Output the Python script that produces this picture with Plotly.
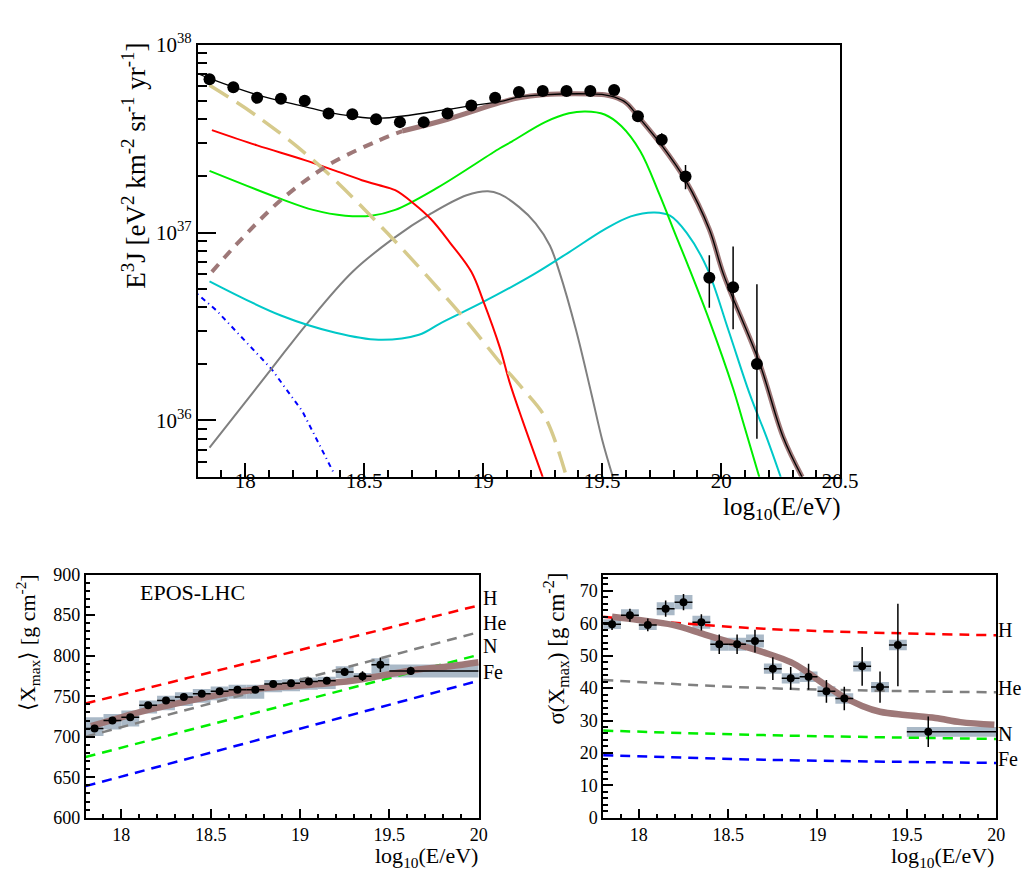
import plotly.graph_objs as go

# ---- top panel: flux ----
flux_e = [17.85, 17.95, 18.05, 18.15, 18.25, 18.35, 18.45, 18.55, 18.65, 18.75, 18.85, 18.95,
          19.05, 19.15, 19.25, 19.35, 19.45, 19.55, 19.65, 19.75, 19.85, 19.95, 20.05, 20.15]
flux = [6.54e37, 5.94e37, 5.21e37, 5.15e37, 5.03e37, 4.30e37, 4.26e37, 4.01e37, 3.87e37, 3.87e37,
        4.30e37, 4.74e37, 5.21e37, 5.60e37, 5.66e37, 5.66e37, 5.66e37, 5.73e37, 4.16e37, 3.12e37,
        1.99e37, 5.75e36, 5.11e36, 2.0e36]
flux_err_up = [0.05e37, 0.05e37, 0.05e37, 0.05e37, 0.05e37, 0.05e37, 0.05e37, 0.05e37, 0.05e37, 0.05e37,
               0.05e37, 0.05e37, 0.05e37, 0.05e37, 0.05e37, 0.05e37, 0.06e37, 0.07e37, 0.1e37, 0.26e37,
               0.30e37, 1.82e36, 3.32e36, 3.3e36]
flux_err_dn = [0.05e37, 0.05e37, 0.05e37, 0.05e37, 0.05e37, 0.05e37, 0.05e37, 0.05e37, 0.05e37, 0.05e37,
               0.05e37, 0.05e37, 0.05e37, 0.05e37, 0.05e37, 0.05e37, 0.06e37, 0.07e37, 0.1e37, 0.24e37,
               0.29e37, 1.77e36, 2.05e36, 1.2e36]

total_e = [17.80, 17.85, 18.05, 18.25, 18.35, 18.45, 18.57, 18.85, 18.95, 19.07, 19.15, 19.25,
           19.45, 19.51, 19.55, 19.60, 19.65, 19.75, 19.85, 19.95, 20.01, 20.16, 20.26, 20.34]
total = [7.02e37, 6.61e37, 5.41e37, 4.68e37, 4.36e37, 4.16e37, 4.06e37, 4.52e37, 4.74e37, 4.97e37,
         5.27e37, 5.41e37, 5.47e37, 5.41e37, 5.27e37, 4.91e37, 4.16e37, 2.91e37, 1.90e37, 1.04e37,
         5.97e36, 2.04e36, 8.17e35, 5.0e35]

extra_low_e = [17.86, 17.97, 18.15, 18.35, 18.55, 18.66]
extra_low = [6.18e36, 8.83e36, 1.49e37, 2.29e37, 3.05e37, 3.47e37]
extra_e = [18.66, 18.85, 19.07, 19.15, 19.25, 19.45, 19.51, 19.55, 19.60, 19.65, 19.75, 19.85,
           19.95, 20.01, 20.16, 20.26, 20.34]
extra = [3.47e37, 4.01e37, 4.91e37, 5.21e37, 5.41e37, 5.47e37, 5.41e37, 5.27e37, 4.91e37, 4.16e37,
         2.91e37, 1.90e37, 1.04e37, 5.97e36, 2.04e36, 8.17e35, 5.0e35]

gal_e = [17.85, 18.05, 18.30, 18.60, 18.91, 19.07, 19.165, 19.26, 19.35]
gal = [6.08e37, 4.16e37, 2.34e37, 9.85e36, 3.62e36, 2.04e36, 1.48e36, 1.04e36, 5.0e35]

red_e = [17.86, 18.05, 18.25, 18.38, 18.49, 18.56, 18.63, 18.71, 18.78, 18.86, 18.95, 19.0,
         19.07, 19.11, 19.165, 19.25]
red = [3.51e37, 2.91e37, 2.43e37, 2.13e37, 1.90e37, 1.79e37, 1.68e37, 1.42e37, 1.18e37, 8.85e36,
       6.18e36, 4.33e36, 2.44e36, 1.61e36, 1.0e36, 5.0e35]

green_e = [17.85, 18.15, 18.285, 18.42, 18.53, 18.63, 18.81, 19.07, 19.12, 19.26, 19.36, 19.43,
           19.51, 19.58, 19.66, 19.74, 19.81, 19.86, 19.95, 20.05, 20.09, 20.16]
green = [2.13e37, 1.51e37, 1.32e37, 1.23e37, 1.23e37, 1.32e37, 1.74e37, 2.81e37, 3.05e37, 3.87e37,
         4.31e37, 4.41e37, 4.25e37, 3.69e37, 2.71e37, 1.60e37, 9.6e36, 6.71e36, 3.41e36, 1.48e36,
         1.0e36, 5.0e35]

gray_e = [17.85, 18.11, 18.26, 18.45, 18.62, 18.78, 18.93, 19.02, 19.07, 19.15, 19.22, 19.28,
          19.32, 19.39, 19.455, 19.50, 19.545]
gray = [7.16e35, 1.88e36, 3.28e36, 6.17e36, 9.25e36, 1.26e37, 1.58e37, 1.66e37, 1.60e37, 1.37e37,
        1.12e37, 8.53e36, 6.18e36, 3.03e36, 1.38e36, 7.88e35, 5.0e35]

cyan_e = [17.85, 18.15, 18.38, 18.56, 18.73, 18.82, 19.0, 19.21, 19.36, 19.51, 19.62, 19.72,
          19.785, 19.855, 19.94, 20.03, 20.12, 20.19, 20.25]
cyan = [5.50e36, 3.62e36, 2.93e36, 2.69e36, 2.86e36, 3.29e36, 4.27e36, 5.97e36, 7.85e36, 1.04e37,
        1.22e37, 1.28e37, 1.23e37, 9.96e36, 6.49e36, 3.03e36, 1.38e36, 8.17e35, 5.0e35]

blue_e = [17.80, 17.88, 18.11, 18.24, 18.37]
blue = [4.70e36, 3.84e36, 1.88e36, 1.12e36, 5.31e35]

# ---- bottom panels: Xmax moments ----
bin_lo = [17.8, 17.9, 18.0, 18.1, 18.2, 18.3, 18.4, 18.5, 18.6, 18.7, 18.8, 18.9,
          19.0, 19.1, 19.2, 19.3, 19.4, 19.5]
bin_hi = [17.9, 18.0, 18.1, 18.2, 18.3, 18.4, 18.5, 18.6, 18.7, 18.8, 18.9, 19.0,
          19.1, 19.2, 19.3, 19.4, 19.5, 20.0]
lg_e = [17.85, 17.95, 18.05, 18.15, 18.25, 18.35, 18.45, 18.55, 18.65, 18.75, 18.85, 18.95,
        19.05, 19.15, 19.25, 19.35, 19.45, 19.62]

xmax = [710, 720, 724, 738.7, 744.7, 749, 753, 756, 758, 758, 765, 766, 768, 769, 780, 774.7, 788.8, 781.2]
xmax_stat = [2, 2, 2, 2, 2, 2, 2, 2, 2.5, 2.5, 3, 3, 3.5, 4, 5, 6, 9, 5]
xmax_sys_up = [14, 8, 8.5, 6, 6, 6, 6, 6, 6, 6, 5, 5, 5, 5, 7, 4, 8, 8]
xmax_sys_dn = [9, 11, 11.5, 10, 12, 11, 11, 11, 11, 11, 10, 10, 10, 10, 8, 6, 12, 8]

xmax_fit_e = [17.83, 18.0, 18.15, 18.25, 18.5, 18.65, 18.8, 18.92, 19.11, 19.29, 19.47, 19.66, 19.84, 20.0]
xmax_fit = [713, 724, 733, 738, 750, 755, 760, 762, 765, 769, 776, 783, 787, 792]

ref_e = [17.8, 20.0]
xmax_H = [741, 862]
xmax_He = [700, 829]
xmax_N = [675, 801]
xmax_Fe = [639, 769]

sig = [59.7, 62.5, 59.5, 64.5, 66.5, 60.3, 53.5, 53.5, 54.5, 46, 43, 43.5, 39, 36.8, 46.7, 40.3, 53.3, 26.5]
sig_stat = [1.8, 2, 2, 2.5, 2.5, 2.5, 3, 3, 3.5, 3.5, 3.5, 4, 3.5, 3.6, 6, 4.8, 12.7, 4.7]
sig_sys = [1.5, 1.8, 1.6, 2, 2.2, 2, 2, 2, 2, 1.6, 1.6, 1.6, 1.6, 1.6, 1.6, 1.6, 1.6, 1.5]

sig_fit_e = [17.85, 18.0, 18.19, 18.37, 18.55, 18.70, 18.85, 18.94, 19.03, 19.14, 19.25, 19.35,
             19.49, 19.66, 19.8, 19.99]
sig_fit = [62, 61, 59.5, 56.5, 53.5, 51, 48, 45, 41.5, 37.5, 34.5, 32.7, 31.7, 30.8, 29.5, 28.7]

sig_ref_e = [17.8, 18.7, 20.0]
sig_H = [62.0, 58.3, 56.3]
sig_He = [42.5, 40.0, 38.7]
sig_N = [26.9, 25.5, 24.3]
sig_Fe = [19.3, 17.9, 16.9]

FONT = "Liberation Serif"
BROWN = "#9e7878"
BOXC = "#aab9c7"
W, H = 1031, 871


def px_x(p):
    return p / W


def px_y(p):
    return 1 - p / H


data = []

# top panel curves
data.append(go.Scatter(x=blue_e, y=blue, mode="lines", xaxis="x", yaxis="y",
                       line=dict(color="#0000ff", width=2, dash="1px,4px,5px,4px")))
data.append(go.Scatter(x=gray_e, y=gray, mode="lines", line_shape="spline", xaxis="x", yaxis="y",
                       line=dict(color="#808080", width=2)))
data.append(go.Scatter(x=cyan_e, y=cyan, mode="lines", line_shape="spline", xaxis="x", yaxis="y",
                       line=dict(color="#00c8c8", width=2)))
data.append(go.Scatter(x=green_e, y=green, mode="lines", line_shape="spline", xaxis="x", yaxis="y",
                       line=dict(color="#00ee00", width=2)))
data.append(go.Scatter(x=red_e, y=red, mode="lines", line_shape="spline", xaxis="x", yaxis="y",
                       line=dict(color="#ff0000", width=2)))
data.append(go.Scatter(x=gal_e, y=gal, mode="lines", line_shape="spline", xaxis="x", yaxis="y",
                       line=dict(color="#d6ca8c", width=3.5, dash="22px,10px")))
data.append(go.Scatter(x=extra_low_e, y=extra_low, mode="lines", line_shape="spline", xaxis="x", yaxis="y",
                       line=dict(color=BROWN, width=4, dash="10px,8px")))
data.append(go.Scatter(x=extra_e, y=extra, mode="lines", line_shape="spline", xaxis="x", yaxis="y",
                       line=dict(color=BROWN, width=5)))
data.append(go.Scatter(x=total_e, y=total, mode="lines", line_shape="spline", xaxis="x", yaxis="y",
                       line=dict(color="black", width=1.3)))
data.append(go.Scatter(x=flux_e, y=flux, mode="markers", xaxis="x", yaxis="y",
                       marker=dict(color="black", size=12),
                       error_y=dict(type="data", array=flux_err_up, arrayminus=flux_err_dn,
                                    color="black", thickness=1.5, width=0)))

# bottom panels: systematic boxes
xmax_base = [v - d for v, d in zip(xmax, xmax_sys_dn)]
xmax_h = [u + d for u, d in zip(xmax_sys_up, xmax_sys_dn)]
sig_base = [v - s for v, s in zip(sig, sig_sys)]
sig_h = [2 * s for s in sig_sys]
bin_c = [(a + b) / 2 for a, b in zip(bin_lo, bin_hi)]
bin_w = [b - a for a, b in zip(bin_lo, bin_hi)]
err_p = [b - e for b, e in zip(bin_hi, lg_e)]
err_m = [e - a for a, e in zip(bin_lo, lg_e)]

data.append(go.Bar(x=bin_c, y=xmax_h, base=xmax_base, width=bin_w, xaxis="x2", yaxis="y2",
                   marker=dict(color=BOXC, line=dict(width=0))))
data.append(go.Bar(x=bin_c, y=sig_h, base=sig_base, width=bin_w, xaxis="x3", yaxis="y3",
                   marker=dict(color=BOXC, line=dict(width=0))))

ref_colors = ["#ff0000", "#808080", "#00ee00", "#0000ff"]
for vals, c in zip([xmax_H, xmax_He, xmax_N, xmax_Fe], ref_colors):
    data.append(go.Scatter(x=ref_e, y=vals, mode="lines", xaxis="x2", yaxis="y2",
                           line=dict(color=c, width=2.5, dash="10px,7px")))
for vals, c in zip([sig_H, sig_He, sig_N, sig_Fe], ref_colors):
    data.append(go.Scatter(x=sig_ref_e, y=vals, mode="lines", line_shape="spline", xaxis="x3", yaxis="y3",
                           line=dict(color=c, width=2.5, dash="10px,7px")))

data.append(go.Scatter(x=xmax_fit_e, y=xmax_fit, mode="lines", line_shape="spline", xaxis="x2", yaxis="y2",
                       line=dict(color=BROWN, width=6.5)))
data.append(go.Scatter(x=sig_fit_e, y=sig_fit, mode="lines", line_shape="spline", xaxis="x3", yaxis="y3",
                       line=dict(color=BROWN, width=6.5)))

data.append(go.Scatter(x=lg_e, y=xmax, mode="markers", xaxis="x2", yaxis="y2",
                       marker=dict(color="black", size=8),
                       error_x=dict(type="data", array=err_p, arrayminus=err_m, color="black", thickness=1.5, width=0),
                       error_y=dict(type="data", array=xmax_stat, color="black", thickness=1.5, width=0)))
data.append(go.Scatter(x=lg_e, y=sig, mode="markers", xaxis="x3", yaxis="y3",
                       marker=dict(color="black", size=8),
                       error_x=dict(type="data", array=err_p, arrayminus=err_m, color="black", thickness=1.5, width=0),
                       error_y=dict(type="data", array=sig_stat, color="black", thickness=1.5, width=0)))

tickfont = dict(family=FONT, size=21, color="black")
smallfont = dict(family=FONT, size=18, color="black")


def axis(domain, anchor, rng, dtick, minor_dtick, ticklen, minor_len, font, **kw):
    d = dict(domain=domain, anchor=anchor, range=rng, dtick=dtick, ticks="inside", ticklen=ticklen,
             tickwidth=1.5, tickcolor="black", showline=True, linecolor="black", linewidth=1.5,
             mirror=True, showgrid=False, zeroline=False, tickfont=font,
             minor=dict(ticks="inside", ticklen=minor_len, tickwidth=1.5, tickcolor="black",
                        dtick=minor_dtick, showgrid=False))
    d.update(kw)
    return d


minor_log = [m * 10.0 ** e for e in (35, 36, 37) for m in range(2, 10)]

layout = go.Layout(
    width=W, height=871, margin=dict(l=0, r=0, t=0, b=0),
    plot_bgcolor="white", paper_bgcolor="white", showlegend=False, barmode="overlay",
    font=dict(family=FONT, color="black"),
    xaxis=axis([px_x(193), px_x(847)], "y", [17.8, 20.5], 0.5, 0.1, 14, 7, tickfont, tick0=18,
               ticklabelstandoff=-16),
    yaxis=dict(domain=[px_y(467.7), px_y(23.3)], anchor="x", type="log", range=[35.7, 38],
               tickmode="array", tickvals=[1e36, 1e37, 1e38],
               ticktext=["10<sup>36</sup>", "10<sup>37</sup>", "10<sup>38</sup>"],
               ticks="inside", ticklen=19, tickwidth=1.5, tickcolor="black",
               showline=True, linecolor="black", linewidth=1.5, mirror=True,
               showgrid=False, zeroline=False, tickfont=tickfont,
               minor=dict(ticks="inside", ticklen=10, tickwidth=1.5, tickcolor="black",
                          tickmode="array", tickvals=minor_log, showgrid=False)),
    xaxis2=axis([px_x(79), px_x(479)], "y2", [17.8, 20.0], 0.5, 0.1, 9, 4, smallfont, tick0=18),
    yaxis2=axis([px_y(818.3), px_y(568.3)], "x2", [600, 900], 50, 10, 10, 5, smallfont),
    xaxis3=axis([px_x(605.7), px_x(1005.7)], "y3", [17.8, 20.0], 0.5, 0.1, 9, 4, smallfont, tick0=18),
    yaxis3=axis([px_y(818.3), px_y(568.3)], "x3", [0, 75], 10, 2, 10, 5, smallfont),
)

ann = []
ann.append(dict(text="E<sup>3</sup>J [eV<sup>2</sup> km<sup>-2</sup> sr<sup>-1</sup> yr<sup>-1</sup>]",
                x=px_x(128), y=px_y(148), xref="paper", yref="paper", textangle=-90,
                xanchor="center", yanchor="middle", showarrow=False, font=dict(family=FONT, size=27)))
ann.append(dict(text="log<sub>10</sub>(E/eV)", x=px_x(849), y=px_y(500), xref="paper", yref="paper",
                xanchor="right", yanchor="middle", showarrow=False, font=dict(family=FONT, size=25)))
ann.append(dict(text="⟨X<sub>max</sub>⟩ [g cm<sup>-2</sup>]", x=px_x(20), y=px_y(638), xref="paper",
                yref="paper", textangle=-90, xanchor="center", yanchor="middle", showarrow=False,
                font=dict(family=FONT, size=22)))
ann.append(dict(text="σ(X<sub>max</sub>) [g cm<sup>-2</sup>]", x=px_x(557), y=px_y(644), xref="paper",
                yref="paper", textangle=-90, xanchor="center", yanchor="middle", showarrow=False,
                font=dict(family=FONT, size=23)))
for xr in (480, 1006):
    ann.append(dict(text="log<sub>10</sub>(E/eV)", x=px_x(xr), y=px_y(859), xref="paper", yref="paper",
                    xanchor="right", yanchor="middle", showarrow=False, font=dict(family=FONT, size=22)))
ann.append(dict(text="EPOS-LHC", x=px_x(188), y=px_y(587), xref="paper", yref="paper",
                xanchor="center", yanchor="middle", showarrow=False, font=dict(family=FONT, size=22)))
for lab, yy in zip(["H", "He", "N", "Fe"], [592, 618, 642, 668]):
    ann.append(dict(text=lab, x=px_x(481), y=px_y(yy), xref="paper", yref="paper", xanchor="left",
                    yanchor="middle", showarrow=False, font=dict(family=FONT, size=20)))
for lab, yy in zip(["H", "He", "N", "Fe"], [625, 685, 732, 758]):
    ann.append(dict(text=lab, x=px_x(1006), y=px_y(yy), xref="paper", yref="paper", xanchor="left",
                    yanchor="middle", showarrow=False, font=dict(family=FONT, size=20)))
layout.update(annotations=ann)

fig = go.Figure(data=data, layout=layout)
fig.write_html("out.html")
